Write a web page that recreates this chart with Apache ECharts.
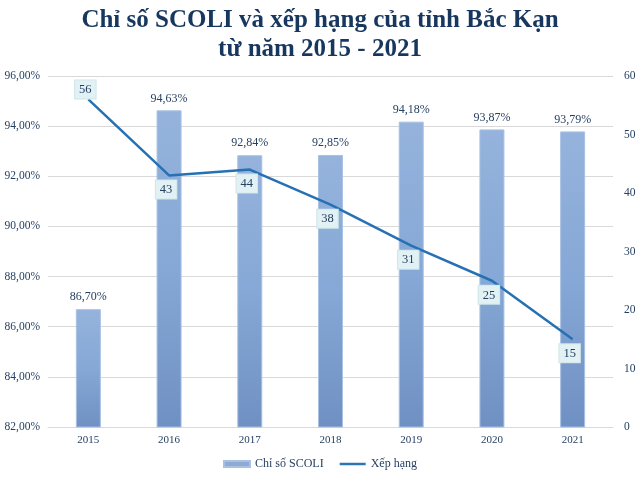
<!DOCTYPE html>
<html>
<head>
<meta charset="utf-8">
<script src="https://cdn.jsdelivr.net/npm/echarts@6/dist/echarts.min.js"></script>
<style>
html,body{margin:0;padding:0;background:#fff;}
#c{width:640px;height:483px;}
</style>
</head>
<body>
<div id="c"></div>
<script>
var years = ['2015','2016','2017','2018','2019','2020','2021'];
var scoli = [86.70, 94.63, 92.84, 92.85, 94.18, 93.87, 93.79];
var rank = [56, 43, 44, 38, 31, 25, 15];
var rankLabelPos = ['top','bottom','bottom','bottom','bottom','bottom','bottom'];

var serif = '"Liberation Serif", "DejaVu Serif", serif';
var textColor = '#243f60';

function pct(v){ return v.toFixed(2).replace('.', ',') + '%'; }

var chart = echarts.init(document.getElementById('c'));
chart.setOption({
  animation: false,
  title: {
    text: 'Chỉ số SCOLI và xếp hạng của tỉnh Bắc Kạn\ntừ năm 2015 - 2021',
    left: 'center',
    top: 1,
    textStyle: {
      fontFamily: serif,
      fontWeight: 'bold',
      fontSize: 25,
      lineHeight: 29,
      color: '#17375e'
    }
  },
  legend: {
    bottom: 8,
    left: 'center',
    itemGap: 16,
    itemWidth: 26,
    itemHeight: 6,
    textStyle: { fontFamily: serif, fontSize: 12, color: textColor },
    data: [
      { name: 'Chỉ số SCOLI', icon: 'rect', itemStyle: { color: '#8eabd6' } },
      { name: 'Xếp hạng', icon: 'path://M0,0 L26,0 L26,2.5 L0,2.5 Z', itemStyle: { color: '#2e75b6' } }
    ]
  },
  grid: { left: 48, right: 27, top: 76, bottom: 56, containLabel: false },
  xAxis: {
    type: 'category',
    data: years,
    axisLine: { show: true, lineStyle: { color: '#d9d9d9' } },
    axisTick: { show: false },
    axisLabel: { fontFamily: serif, fontSize: 11, color: textColor, margin: 8 }
  },
  yAxis: [
    {
      type: 'value',
      min: 82, max: 96, interval: 2,
      axisLine: { show: false },
      axisTick: { show: false },
      splitLine: { lineStyle: { color: '#d9d9d9' } },
      axisLabel: { fontFamily: serif, fontSize: 11.5, color: textColor, margin: 8,
        formatter: function(v){ return pct(v); } }
    },
    {
      type: 'value',
      min: 0, max: 60, interval: 10,
      axisLine: { show: false },
      axisTick: { show: false },
      splitLine: { show: false },
      axisLabel: { fontFamily: serif, fontSize: 11.5, color: textColor, margin: 11 }
    }
  ],
  series: [
    {
      name: 'Chỉ số SCOLI',
      type: 'bar',
      data: scoli,
      barWidth: 25,
      itemStyle: {
        color: new echarts.graphic.LinearGradient(0, 0, 0, 1, [
          { offset: 0, color: '#95b3dc' },
          { offset: 0.5, color: '#86a8d6' },
          { offset: 1, color: '#6f90c2' }
        ]),
        borderColor: '#a9c1e3',
        borderWidth: 1
      },
      label: {
        show: true,
        position: 'top',
        distance: 6,
        fontFamily: serif,
        fontSize: 12,
        color: textColor,
        formatter: function(p){ return pct(p.value); }
      }
    },
    {
      name: 'Xếp hạng',
      type: 'line',
      yAxisIndex: 1,
      data: rank.map(function(v, i){
        return {
          value: v,
          label: {
            position: rankLabelPos[i],
            distance: rankLabelPos[i] === 'top' ? 1 : 5,
            offset: [-3, 0]
          }
        };
      }),
      symbol: 'circle',
      symbolSize: 0,
      showSymbol: true,
      lineStyle: { color: '#2671b3', width: 2.5 },
      itemStyle: { color: '#2671b3' },
      label: {
        show: true,
        fontFamily: serif,
        fontSize: 12.5,
        color: textColor,
        backgroundColor: '#e2f1f3',
        borderColor: '#d0e6ea',
        borderWidth: 1,
        padding: [3, 4, 2, 4]
      },
      z: 5
    }
  ]
});
</script>
</body>
</html>
